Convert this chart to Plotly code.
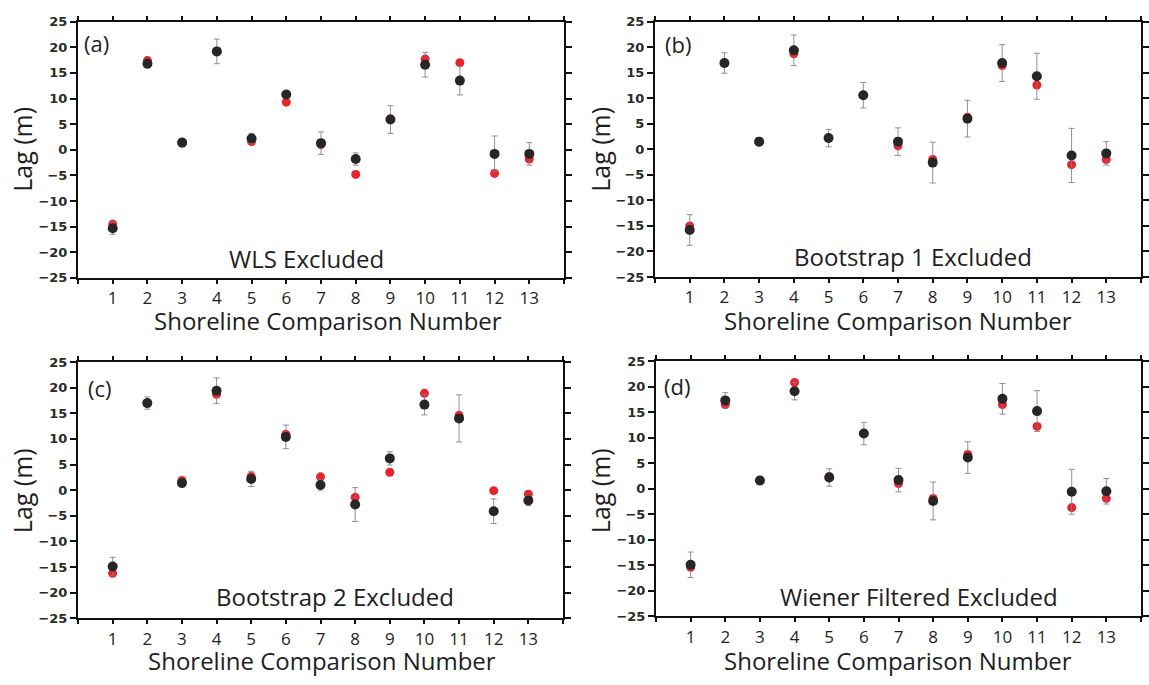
import plotly.graph_objects as go

W, H = 1149, 685

comparison = list(range(1, 14))
tick_labels = [str(i) for i in comparison]

# Lag estimates (m) for each shoreline comparison, per exclusion test
wls_black = [-15.3, 16.8, 1.4, 19.2, 2.2, 10.8, 1.3, -1.8, 5.9, 16.6, 13.5, -0.8, -0.8]
wls_red = [-14.5, 17.4, 1.5, 19.2, 1.6, 9.3, 1.0, -4.8, 6.0, 17.7, 17.0, -4.6, -1.8]
wls_err = [1.2, 0.8, 0.6, 2.4, 1.0, 0.7, 2.2, 1.2, 2.7, 2.4, 2.8, 3.5, 2.2]

boot1_black = [-15.8, 16.9, 1.5, 19.4, 2.2, 10.6, 1.5, -2.6, 6.0, 16.9, 14.3, -1.2, -0.8]
boot1_red = [-15.0, 16.9, 1.5, 18.7, 2.2, 10.6, 0.7, -2.0, 6.3, 16.4, 12.6, -3.0, -2.0]
boot1_err = [3.0, 2.0, 0.8, 3.0, 1.7, 2.5, 2.7, 4.0, 3.6, 3.6, 4.5, 5.3, 2.3]

boot2_black = [-14.9, 17.0, 1.4, 19.4, 2.2, 10.4, 1.0, -2.8, 6.2, 16.7, 14.0, -4.1, -2.0]
boot2_red = [-16.2, 16.9, 1.9, 18.7, 2.7, 10.9, 2.6, -1.4, 3.5, 18.9, 14.6, -0.1, -0.8]
boot2_err = [1.8, 1.2, 0.8, 2.5, 1.5, 2.3, 1.0, 3.3, 1.3, 2.0, 4.6, 2.4, 1.0]

wiener_black = [-14.9, 17.3, 1.6, 19.1, 2.2, 10.8, 1.7, -2.4, 6.1, 17.6, 15.2, -0.6, -0.5]
wiener_red = [-15.4, 16.5, 1.6, 20.8, 2.4, 10.8, 1.0, -1.9, 6.7, 16.5, 12.2, -3.7, -1.9]
wiener_err = [2.5, 1.5, 0.8, 1.7, 1.7, 2.2, 2.3, 3.7, 3.1, 3.0, 4.0, 4.4, 2.5]

panels = [
    ("(a)", "WLS Excluded", wls_black, wls_red, wls_err),
    ("(b)", "Bootstrap 1 Excluded", boot1_black, boot1_red, boot1_err),
    ("(c)", "Bootstrap 2 Excluded", boot2_black, boot2_red, boot2_err),
    ("(d)", "Wiener Filtered Excluded", wiener_black, wiener_red, wiener_err),
]

# plot-area boxes in pixels: left, right, top, bottom
boxes = [
    (78, 564, 15, 277),
    (655, 1141, 15, 276),
    (78, 563, 363, 625),
    (656, 1141, 362, 623),
]
letter_pos = [(96, 37), (678, 38), (100, 390), (677, 387)]
label_pos = [(306, 257), (913, 255), (335, 603), (919, 603)]
ytitle_pos = [(22, 146), (600, 146), (22, 495), (600, 495)]
xtitle_pos = [(328, 321), (898, 321), (322, 668), (898, 668)]

TEXT = "#1e1e1e"
BODY_FONT = "Open Sans"
TICK_FONT = "DejaVu Sans"


def fx(px):
    return px / W


def fy(py):
    return 1 - py / H


def note(text, pos, size, angle=0):
    return dict(text=text, x=fx(pos[0]), y=fy(pos[1]),
                xref="paper", yref="paper", xanchor="center",
                yanchor="middle", showarrow=False, textangle=angle,
                font=dict(family=BODY_FONT, size=size, color=TEXT))


fig = go.Figure()
annotations = []

for i, (letter, label, black, red, err) in enumerate(panels):
    n = "" if i == 0 else str(i + 1)
    xa, ya = "x" + n, "y" + n
    l, r, t, b = boxes[i]

    fig.add_trace(go.Scatter(
        x=comparison, y=red, mode="markers", xaxis=xa, yaxis=ya,
        marker=dict(color="#e8232b", size=9, line=dict(width=0)),
        showlegend=False, hoverinfo="x+y",
    ))
    fig.add_trace(go.Scatter(
        x=comparison, y=black, mode="markers", xaxis=xa, yaxis=ya,
        marker=dict(color="#262626", size=10, line=dict(width=0)),
        error_y=dict(type="data", array=err, visible=True,
                     color="rgba(125,125,140,0.85)", thickness=1, width=3),
        showlegend=False, hoverinfo="x+y",
    ))

    axis_common = dict(
        showline=True, linecolor="#111", linewidth=2, mirror="ticks",
        ticks="outside", tickcolor="#111", showgrid=False, zeroline=False,
        fixedrange=True,
    )
    fig.update_layout({
        ("xaxis" + n): dict(
            axis_common, domain=[fx(l), fx(r)], range=[0, 14],
            anchor=ya, tickvals=list(range(0, 15)),
            ticktext=[""] + tick_labels + [""],
            ticklen=4, tickwidth=1.5,
            tickfont=dict(family=BODY_FONT, size=17, color=TEXT),
        ),
        ("yaxis" + n): dict(
            axis_common, domain=[fy(b), fy(t)], range=[-25, 25],
            anchor=xa, tickvals=list(range(-25, 26, 5)),
            ticklen=6, tickwidth=1.5,
            tickfont=dict(family=TICK_FONT, size=13, color="#2a2a2a",
                          weight="bold"),
        ),
    })

    annotations += [
        note(letter, letter_pos[i], 22),
        note(label, label_pos[i], 24),
        note("Lag (m)", ytitle_pos[i], 25, angle=-90),
        note("Shoreline Comparison Number", xtitle_pos[i], 24),
    ]

fig.update_layout(
    width=W, height=H, margin=dict(l=0, r=0, t=0, b=0),
    paper_bgcolor="white", plot_bgcolor="white",
    annotations=annotations,
)

fig.write_html("out.html")
